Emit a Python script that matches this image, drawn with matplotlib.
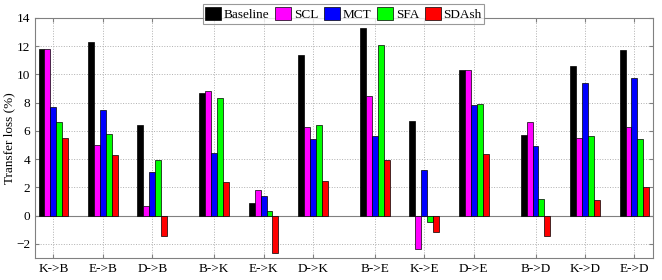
import matplotlib.pyplot as plt
import numpy as np

plt.rcParams['font.family'] = ['Liberation Serif', 'DejaVu Serif']

tasks = ['K->B', 'E->B', 'D->B', 'B->K', 'E->K', 'D->K',
         'B->E', 'K->E', 'D->E', 'B->D', 'K->D', 'E->D']
methods = ['Baseline', 'SCL', 'MCT', 'SFA', 'SDAsh']
colors = ['#000000', '#ff00ff', '#0000ff', '#00ff00', '#ff0000']

baseline = [11.8, 12.3, 6.4, 8.7, 0.87, 11.4, 13.3, 6.7, 10.3, 5.7, 10.6, 11.7]
scl = [11.8, 5.0, 0.7, 8.8, 1.8, 6.3, 8.5, -2.4, 10.3, 6.65, 5.5, 6.25]
mct = [7.7, 7.45, 3.1, 4.4, 1.4, 5.4, 5.6, 3.2, 7.8, 4.9, 9.4, 9.75]
sfa = [6.6, 5.8, 3.9, 8.3, 0.35, 6.4, 12.1, -0.45, 7.9, 1.2, 5.6, 5.45]
sdash = [5.5, 4.3, -1.45, 2.35, -2.65, 2.45, 3.9, -1.2, 4.35, -1.45, 1.1, 2.0]
series = [baseline, scl, mct, sfa, sdash]

# three tasks per target domain, a little extra gap between domains
pos = np.array([i + 0.25 * (i // 3) for i in range(len(tasks))]) + 1.0
width = 0.12

fig = plt.figure(figsize=(6.62, 2.8), dpi=100)
ax = fig.add_axes([0.053, 0.079, 0.933, 0.857])

for k, (vals, c, name) in enumerate(zip(series, colors, methods)):
    ax.bar(pos + (k - 2) * width, vals, width, color=c, edgecolor='black',
           linewidth=0.5, label=name, zorder=3)

ax.axhline(0, color='#808080', linewidth=0.8, zorder=2)
ax.set_xlim(pos[0] - 0.37, pos[-1] + 0.37)
ax.set_ylim(-3, 14)
ax.set_yticks(np.arange(-2, 15, 2))
ax.set_xticks(pos)
ax.set_xticklabels(tasks)
ax.set_ylabel('Transfer loss (%)', fontsize=9.5)
ax.yaxis.set_label_coords(-0.032, 0.5)
ax.tick_params(direction='in', top=True, right=True, labelsize=9.5,
               length=3, color='#808080')
ax.grid(True, linestyle=':', color='#b0b0b0', linewidth=0.7, zorder=0)
for s in ax.spines.values():
    s.set_color('#808080')

leg = fig.legend(loc='upper center', bbox_to_anchor=(0.519, 0.995), ncol=5,
                 fontsize=9.5, frameon=True, fancybox=False, edgecolor='#808080',
                 handlelength=1.2, handleheight=1.2, handletextpad=0.2,
                 columnspacing=0.45, borderpad=0.2, borderaxespad=0.2)
leg.get_frame().set_linewidth(0.8)

fig.savefig('out.png', dpi=100)
